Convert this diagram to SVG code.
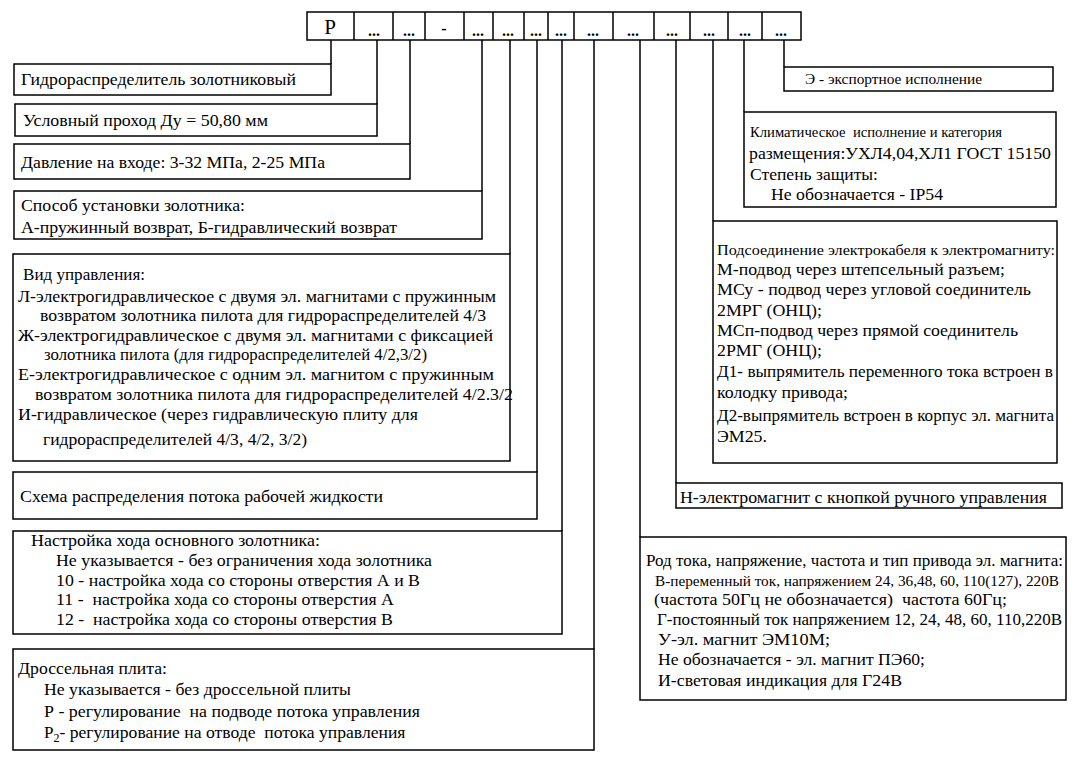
<svg xmlns="http://www.w3.org/2000/svg" width="1074" height="765" viewBox="0 0 1074 765">
<style>
.bx{fill:none;stroke:#000;stroke-width:1.5}
.ln{fill:none;stroke:#000;stroke-width:1.5}
text{font-family:"Liberation Serif","Times New Roman","DejaVu Serif",serif;font-size:17px;fill:#000}
.s{font-size:14px}
.m{font-size:15px}
.h{font-size:16px;text-anchor:middle;font-weight:bold}
.hp{font-size:21px;text-anchor:middle}
</style>
<rect width="1074" height="765" fill="#fff"/>
<g id="header">
<rect class="bx" x="307" y="12" width="494" height="28"/>
<path class="ln" d="M354 12V40M393 12V40M425 12V40M464 12V40M493 12V40M524 12V40M548 12V40M574 12V40M613 12V40M654 12V40M690 12V40M728 12V40M762 12V40"/>
<text class="hp" x="330" y="34">Р</text>
<text class="h" x="374" y="36">...</text>
<text class="h" x="409" y="36">...</text>
<text class="h" x="444" y="34">-</text>
<text class="h" x="478" y="36">...</text>
<text class="h" x="508" y="36">...</text>
<text class="h" x="536" y="36">...</text>
<text class="h" x="561" y="36">...</text>
<text class="h" x="593" y="36">...</text>
<text class="h" x="633" y="36">...</text>
<text class="h" x="672" y="36">...</text>
<text class="h" x="709" y="36">...</text>
<text class="h" x="745" y="36">...</text>
<text class="h" x="781" y="36">...</text>
</g>
<g id="connectors">
<path class="ln" d="M331 40V64M377 40V104M410 40V144M482 40V191M510 40V254M537 40V472M562 40V531M594 40V649M640 40V537M676 40V483M713 40V221M744 40V112M784 40V67"/>
</g>
<g id="n1">
<rect class="bx" x="14" y="64" width="317" height="31"/>
<text x="21" y="85" textLength="275" lengthAdjust="spacingAndGlyphs">Гидрораспределитель золотниковый</text>
</g>
<g id="n2">
<rect class="bx" x="15" y="104" width="362" height="32"/>
<text x="23" y="126" textLength="245" lengthAdjust="spacingAndGlyphs">Условный проход Ду = 50,80 мм</text>
</g>
<g id="n3">
<rect class="bx" x="14" y="144" width="396" height="35"/>
<text x="21" y="168" textLength="304" lengthAdjust="spacingAndGlyphs">Давление на входе: 3-32 МПа, 2-25 МПа</text>
</g>
<g id="n4">
<rect class="bx" x="14" y="191" width="468" height="48"/>
<text x="21" y="211" textLength="224" lengthAdjust="spacingAndGlyphs">Способ установки золотника:</text>
<text x="21" y="233" textLength="376" lengthAdjust="spacingAndGlyphs">А-пружинный возврат, Б-гидравлический возврат</text>
</g>
<g id="n5">
<rect class="bx" x="13" y="254" width="497" height="207"/>
<text x="23" y="280" textLength="122" lengthAdjust="spacingAndGlyphs">Вид управления:</text>
<text x="18" y="302" textLength="478" lengthAdjust="spacingAndGlyphs">Л-электрогидравлическое с двумя эл. магнитами с пружинным</text>
<text x="40" y="321" textLength="446" lengthAdjust="spacingAndGlyphs">возвратом золотника пилота для гидрораспределителей 4/3</text>
<text x="18" y="341" textLength="475" lengthAdjust="spacingAndGlyphs">Ж-электрогидравлическое с двумя эл. магнитами с фиксацией</text>
<text x="44" y="360" textLength="383" lengthAdjust="spacingAndGlyphs">золотника пилота (для гидрораспределителей 4/2,3/2)</text>
<text x="18" y="380" textLength="476" lengthAdjust="spacingAndGlyphs">Е-электрогидравлическое с одним эл. магнитом с пружинным</text>
<text x="35" y="400" textLength="478" lengthAdjust="spacingAndGlyphs">возвратом золотника пилота для гидрораспределителей 4/2.3/2</text>
<text x="18" y="420" textLength="400" lengthAdjust="spacingAndGlyphs">И-гидравлическое (через гидравлическую плиту для</text>
<text x="43" y="445" textLength="264" lengthAdjust="spacingAndGlyphs">гидрораспределителей 4/3, 4/2, 3/2)</text>
</g>
<g id="n6">
<rect class="bx" x="13" y="472" width="524" height="47"/>
<text x="20" y="502" textLength="363" lengthAdjust="spacingAndGlyphs">Схема распределения потока рабочей жидкости</text>
</g>
<g id="n7">
<rect class="bx" x="13" y="531" width="549" height="103"/>
<text x="31" y="546" textLength="289" lengthAdjust="spacingAndGlyphs">Настройка хода основного золотника:</text>
<text x="56" y="566" textLength="376" lengthAdjust="spacingAndGlyphs">Не указывается - без ограничения хода золотника</text>
<text x="56" y="586" textLength="364" lengthAdjust="spacingAndGlyphs">10 - настройка хода со стороны отверстия А и В</text>
<text x="56" y="605" textLength="338" lengthAdjust="spacingAndGlyphs" xml:space="preserve">11 -  настройка хода со стороны отверстия А</text>
<text x="56" y="625" textLength="337" lengthAdjust="spacingAndGlyphs" xml:space="preserve">12 -  настройка хода со стороны отверстия В</text>
</g>
<g id="n8">
<rect class="bx" x="13" y="649" width="581" height="101"/>
<text x="18" y="674" textLength="149" lengthAdjust="spacingAndGlyphs">Дроссельная плита:</text>
<text x="44" y="695" textLength="307" lengthAdjust="spacingAndGlyphs">Не указывается - без дроссельной плиты</text>
<text x="44" y="717" textLength="376" lengthAdjust="spacingAndGlyphs" xml:space="preserve">Р - регулирование  на подводе потока управления</text>
<text x="44" y="738" xml:space="preserve">Р<tspan font-size="12" dy="4">2</tspan><tspan dy="-4" textLength="346" lengthAdjust="spacingAndGlyphs">- регулирование на отводе  потока управления</tspan></text>
</g>
<g id="n9">
<rect class="bx" x="784" y="67" width="269" height="24"/>
<text class="s" x="805" y="84" textLength="177" lengthAdjust="spacingAndGlyphs">Э - экспортное исполнение</text>
</g>
<g id="n10">
<rect class="bx" x="744" y="112" width="312" height="95"/>
<text class="m" x="750" y="137" textLength="252" lengthAdjust="spacingAndGlyphs" xml:space="preserve">Климатическое  исполнение и категория</text>
<text x="749" y="159" textLength="302" lengthAdjust="spacingAndGlyphs">размещения:УХЛ4,04,ХЛ1 ГОСТ 15150</text>
<text x="750" y="180" textLength="128" lengthAdjust="spacingAndGlyphs">Степень защиты:</text>
<text x="771" y="200" textLength="172" lengthAdjust="spacingAndGlyphs">Не обозначается - IP54</text>
</g>
<g id="n11">
<rect class="bx" x="713" y="221" width="344" height="242"/>
<text class="m" x="717" y="255" textLength="338" lengthAdjust="spacingAndGlyphs">Подсоединение электрокабеля к электромагниту:</text>
<text x="717" y="275" textLength="288" lengthAdjust="spacingAndGlyphs">М-подвод через штепсельный разъем;</text>
<text x="717" y="295" textLength="314" lengthAdjust="spacingAndGlyphs">МСу - подвод через угловой соединитель</text>
<text x="717" y="316" textLength="105" lengthAdjust="spacingAndGlyphs">2МРГ (ОНЦ);</text>
<text x="717" y="336" textLength="301" lengthAdjust="spacingAndGlyphs">МСп-подвод через прямой соединитель</text>
<text x="717" y="356" textLength="105" lengthAdjust="spacingAndGlyphs">2РМГ (ОНЦ);</text>
<text x="717" y="377" textLength="336" lengthAdjust="spacingAndGlyphs">Д1- выпрямитель переменного тока встроен в</text>
<text x="717" y="398" textLength="131" lengthAdjust="spacingAndGlyphs">колодку привода;</text>
<text x="717" y="421" textLength="337" lengthAdjust="spacingAndGlyphs">Д2-выпрямитель встроен в корпус эл. магнита</text>
<text x="717" y="442" textLength="50" lengthAdjust="spacingAndGlyphs">ЭМ25.</text>
</g>
<g id="n12">
<rect class="bx" x="676" y="483" width="386" height="25"/>
<text x="680" y="503" textLength="367" lengthAdjust="spacingAndGlyphs">Н-электромагнит с кнопкой ручного управления</text>
</g>
<g id="n13">
<rect class="bx" x="640" y="537" width="426" height="163"/>
<text x="646" y="566" textLength="417" lengthAdjust="spacingAndGlyphs">Род тока, напряжение, частота и тип привода эл. магнита:</text>
<text class="m" x="655" y="586" textLength="404" lengthAdjust="spacingAndGlyphs">В-переменный ток, напряжением 24, 36,48, 60, 110(127), 220В</text>
<text x="654" y="605" textLength="353" lengthAdjust="spacingAndGlyphs" xml:space="preserve">(частота 50Гц не обозначается)  частота 60Гц;</text>
<text x="657" y="625" textLength="405" lengthAdjust="spacingAndGlyphs">Г-постоянный ток напряжением 12, 24, 48, 60, 110,220В</text>
<text x="658" y="645" textLength="172" lengthAdjust="spacingAndGlyphs">У-эл. магнит ЭМ10М;</text>
<text x="658" y="665" textLength="267" lengthAdjust="spacingAndGlyphs">Не обозначается - эл. магнит ПЭ60;</text>
<text x="658" y="686" textLength="244" lengthAdjust="spacingAndGlyphs">И-световая индикация для Г24В</text>
</g>
</svg>
